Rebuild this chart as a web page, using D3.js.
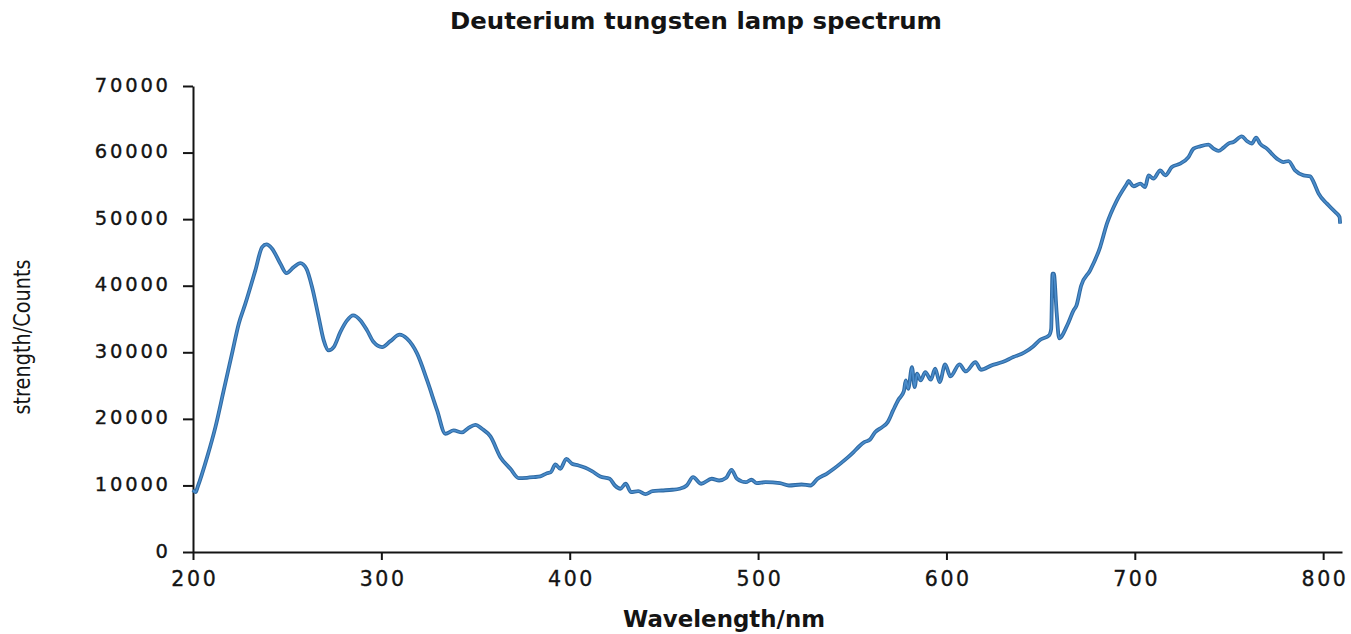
<!DOCTYPE html>
<html>
<head>
<meta charset="utf-8">
<script src="https://cdn.jsdelivr.net/npm/d3@7"></script>
<style>
  html, body { margin: 0; padding: 0; background: #fff; overflow: hidden; }
</style>
</head>
<body>
<script>
// spectrum
const wavelength = [
  200, 201.4, 202.5, 207.5, 211.9, 216.3, 220.7, 224.3, 227.8, 233.1, 236.7, 239, 242, 246.4, 249.6,
  253.5, 257, 260.2, 263.2, 266.7, 269.4, 272, 274.7, 278.2, 281.8, 285, 288.9, 292.4, 295.9, 300.4,
  304.8, 309.7, 313.6, 319, 324.3, 329.6, 334, 338.4, 342.8, 346.3, 349.9, 353.4, 357.9, 363.2, 368.5,
  372.9, 377.3, 380.8, 384.4, 387.9, 390, 392.4, 395, 398.2, 401.2, 404.7, 408.3, 411.8, 416.2, 421.2,
  424, 426.9, 429.7, 432.6, 436.4, 440.2, 444, 448.8, 454.5, 458.3, 462.1, 465.5, 469.8, 475.4, 479.3,
  483.1, 485.9, 488.8, 493.5, 496.4, 499.3, 504, 511.6, 516.4, 523.1, 527.8, 531.6, 536.4, 540.2, 544,
  547.8, 550.7, 553.6, 556.4, 559.3, 562.1, 565.9, 568.8, 571.7, 574.5, 577.4, 578.4, 579.7, 581.7, 583.1,
  584.4, 586.3, 588.8, 591.7, 594, 596.4, 599.3, 602.1, 606.9, 610.3, 615.4, 618.3, 624, 629.8, 635.5,
  641.2, 646, 649.8, 654.5, 655.6, 656.3, 657, 658.5, 659.8, 664.1, 667.5, 669, 671.5, 676.3, 681.6,
  685.2, 690.5, 695.8, 696.7, 699.3, 702.9, 705.5, 707.3, 709.9, 713.5, 716.2, 719.7, 724.1, 728.5, 731.2,
  734.7, 739.1, 741.8, 744.4, 747.1, 749.7, 752.4, 756.8, 759.5, 762.1, 764.4, 766.5, 770.1, 775.4, 778.9,
  781.6, 785.1, 789.6, 793.1, 794.9, 797.6, 802, 806.4, 808.7, 809
]
const counts = [
  9300, 9000, 9800, 14250, 18760, 24270, 29790, 34300, 37300, 42300, 45800, 46200, 45560, 43300, 41900,
  42800, 43400, 42560, 39800, 35290, 31790, 30280, 30780, 33030, 34790, 35540, 34790, 33290, 31530, 30780,
  31680, 32640, 32040, 29790, 25770, 21270, 17760, 18260, 17960, 18660, 19110, 18510, 17360, 14250, 12500,
  11090, 11150, 11240, 11350, 11840, 12000, 13150, 12500, 14000, 13250, 13000, 12650, 12140, 11350, 11000,
  9990, 9500, 10250, 8990, 9140, 8700, 9140, 9240, 9350, 9500, 9990, 11240, 10250, 11000, 10740,
  11150, 12350, 11000, 10490, 10850, 10340, 10490, 10340, 9990, 10140, 9990, 11000, 11750, 12500, 13350,
  14250, 15000, 15850, 16500, 16860, 18000, 18760, 19510, 21270, 22870, 24170, 25770, 24520, 27770, 24770,
  26780, 25770, 27020, 25880, 27530, 25520, 28180, 26380, 28180, 27130, 28530, 27380, 28030, 28530, 29280,
  29940, 30880, 31890, 32540, 33500, 41800, 41800, 36000, 32100, 34040, 36290, 37000, 40000, 42300, 45810,
  49320, 52830, 55330, 55730, 54930, 55330, 54830, 56580, 56080, 57330, 56580, 57830, 58340, 59330, 60590,
  60940, 61190, 60590, 60240, 60740, 61350, 61590, 62440, 61740, 61350, 62250, 61350, 60590, 59090, 58580,
  58730, 57330, 56580, 56430, 55580, 53830, 52330, 51070, 50310, 49320
]
const xTicks = [200, 300, 400, 500, 600, 700, 800]
const yTicks = [0, 10000, 20000, 30000, 40000, 50000, 60000, 70000]

const width = 1351
const height = 634
const margin = { top: 86, right: 9, bottom: 82, left: 193 }

const data = wavelength.map((w, i) => ({ w, c: counts[i] }))

const svg = d3.select('body').append('svg')
    .attr('width', width)
    .attr('height', height)

const x = d3.scaleLinear()
    .domain([200, 810])
    .range([margin.left, width - margin.right])

const y = d3.scaleLinear()
    .domain([0, 70000])
    .range([height - margin.bottom, margin.top])

const font = '"DejaVu Sans", sans-serif'
const ink = '#141414'

// x axis
const gx = svg.append('g')
    .attr('transform', `translate(0,${height - margin.bottom})`)
    .call(d3.axisBottom(x).tickValues(xTicks).tickFormat(d3.format('d')).tickSize(8).tickSizeOuter(0).tickPadding(11))
gx.selectAll('text')
    .style('font-family', font)
    .style('font-size', '20.5px')
    .style('letter-spacing', '2.6px')
    .attr('dx', '1.3px')
    .attr('fill', ink)
    .attr('stroke', ink)
    .attr('stroke-width', 0.35)

// y axis
const gy = svg.append('g')
    .attr('transform', `translate(${margin.left},0)`)
    .call(d3.axisLeft(y).tickValues(yTicks).tickFormat(d3.format('d')).tickSize(10).tickSizeOuter(0).tickPadding(15))
gy.selectAll('text')
    .style('font-family', font)
    .style('font-size', '19.5px')
    .style('letter-spacing', '2.8px')
    .attr('dx', '2.8px')
    .attr('dy', '0.26em')
    .attr('fill', ink)
    .attr('stroke', ink)
    .attr('stroke-width', 0.35)

svg.selectAll('.domain, .tick line')
    .attr('stroke', ink)
    .attr('stroke-width', 2)

// spectrum line
const line = d3.line()
    .x(d => x(d.w))
    .y(d => y(d.c))
    .curve(d3.curveMonotoneX)

svg.append('path')
    .datum(data)
    .attr('d', line)
    .attr('fill', 'none')
    .attr('stroke', '#2f6aa3')
    .attr('stroke-width', 3.8)
    .attr('stroke-linejoin', 'round')

svg.append('path')
    .datum(data)
    .attr('d', line)
    .attr('fill', 'none')
    .attr('stroke', '#4a8ccb')
    .attr('stroke-width', 1.7)
    .attr('stroke-linejoin', 'round')

// titles
svg.append('text')
    .attr('x', 696)
    .attr('y', 29)
    .attr('text-anchor', 'middle')
    .attr('textLength', 492)
    .attr('lengthAdjust', 'spacingAndGlyphs')
    .style('font-family', font)
    .style('font-size', '23px')
    .style('font-weight', 'bold')
    .attr('fill', ink)
    .text('Deuterium tungsten lamp spectrum')

svg.append('text')
    .attr('x', 724)
    .attr('y', 627)
    .attr('text-anchor', 'middle')
    .attr('textLength', 202)
    .attr('lengthAdjust', 'spacingAndGlyphs')
    .style('font-family', font)
    .style('font-size', '23px')
    .style('font-weight', 'bold')
    .attr('fill', ink)
    .text('Wavelength/nm')

svg.append('text')
    .attr('transform', 'translate(30,337) rotate(-90)')
    .attr('text-anchor', 'middle')
    .attr('textLength', 155)
    .attr('lengthAdjust', 'spacingAndGlyphs')
    .style('font-family', '"Liberation Sans Narrow", "DejaVu Sans Condensed", sans-serif')
    .style('font-size', '23px')
    .attr('fill', ink)
    .text('strength/Counts')
</script>
</body>
</html>
